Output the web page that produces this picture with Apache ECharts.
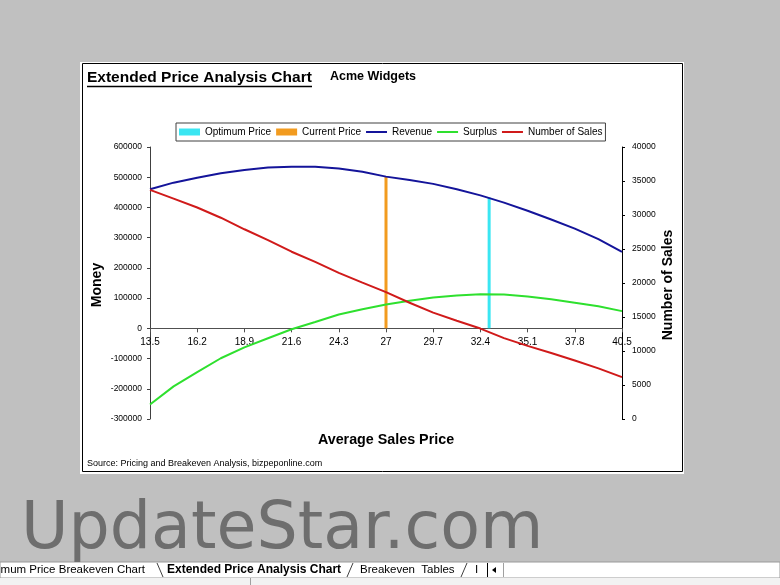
<!DOCTYPE html>
<html>
<head>
<meta charset="utf-8">
<title>Extended Price Analysis Chart</title>
<script src="https://cdn.jsdelivr.net/npm/echarts@6/dist/echarts.min.js"></script>
<style>
  html, body { margin: 0; padding: 0; background: #c0c0c0; }
  #chart { width: 780px; height: 585px; }
</style>
</head>
<body>
<div id="chart"></div>
<script>
// average sales price (x)
const prices = [13.5, 14.85, 16.2, 17.55, 18.9, 20.25, 21.6, 22.95, 24.3, 25.65, 27,
  28.35, 29.7, 31.05, 32.4, 33.75, 35.1, 36.45, 37.8, 39.15, 40.5]
// money axis
const revenue = [460000, 482000, 498000, 513000, 524000, 532000, 535000, 535000, 529000, 518000, 502000,
  491000, 478000, 460000, 440000, 416000, 389000, 360000, 330000, 295000, 253000]
const surplus = [-252000, -192000, -145000, -99000, -63000, -33000, -3000, 21000, 46000, 63000, 79000,
  91000, 102000, 109000, 113000, 112000, 105000, 96000, 85000, 73000, 57000]
// number of sales axis
const sales = [33700, 32400, 31100, 29600, 27900, 26300, 24600, 23100, 21500, 20050, 18650,
  17100, 15650, 14450, 13300, 11900, 10750, 9700, 8600, 7450, 6150]
// marker lines
const optimumPrice = [32.9, 32.9]
const optimumValue = [0, 433000]
const currentPrice = [27, 27]
const currentValue = [0, 501000]

const pairs = (xs, ys) => xs.map((x, i) => [x, ys[i]])
const font = 'Liberation Sans, Arial, sans-serif'
const lineIcon = 'path://M0,0H21V2H0Z'

// grid: money axis -300000..600000, x axis sits on the zero line
const gridTop = 147
const gridHeight = 272
const zeroOffset = -gridHeight * 300000 / 900000

const myChart = echarts.init(document.getElementById('chart'))

myChart.setOption({
  animation: false,
  backgroundColor: '#c0c0c0',
  textStyle: { fontFamily: font, color: '#000' },
  legend: {
    left: 176,
    top: 123,
    padding: [4, 3],
    itemGap: 5,
    itemWidth: 21,
    itemHeight: 7,
    borderColor: '#404040',
    borderWidth: 1,
    backgroundColor: '#fff',
    textStyle: { fontSize: 10, fontFamily: font, color: '#000' },
    data: [
      { name: 'Optimum Price', icon: 'rect' },
      { name: 'Current Price', icon: 'rect' },
      { name: 'Revenue', icon: lineIcon },
      { name: 'Surplus', icon: lineIcon },
      { name: 'Number of Sales', icon: lineIcon }
    ]
  },
  grid: { left: 150, top: gridTop, width: 472, height: gridHeight },
  xAxis: {
    type: 'value',
    min: 13.5,
    max: 40.5,
    interval: 2.7,
    position: 'bottom',
    offset: zeroOffset,
    axisLine: { onZero: false, lineStyle: { color: '#505050', width: 1 } },
    axisTick: { show: true, length: 4, lineStyle: { color: '#505050' } },
    axisLabel: {
      margin: 9,
      fontSize: 10,
      color: '#000',
      formatter: v => String(parseFloat(v.toFixed(1)))
    },
    splitLine: { show: false }
  },
  yAxis: [
    {
      type: 'value',
      min: -300000,
      max: 600000,
      interval: 100000,
      axisLine: { show: true, onZero: false, lineStyle: { color: '#404040' } },
      axisTick: { show: true, length: 3, lineStyle: { color: '#404040' } },
      axisLabel: { margin: 8, fontSize: 8.5, color: '#000', formatter: v => String(v) },
      splitLine: { show: false }
    },
    {
      type: 'value',
      position: 'right',
      min: 0,
      max: 40000,
      interval: 5000,
      axisLine: { show: true, onZero: false, lineStyle: { color: '#000' } },
      axisTick: { show: true, length: 3, lineStyle: { color: '#000' } },
      axisLabel: { margin: 10, fontSize: 8.5, color: '#000', formatter: v => String(v) },
      splitLine: { show: false }
    }
  ],
  series: [
    {
      name: 'Optimum Price',
      type: 'line',
      symbol: 'none',
      color: '#3ae6f2',
      lineStyle: { width: 3 },
      data: pairs(optimumPrice, optimumValue)
    },
    {
      name: 'Current Price',
      type: 'line',
      symbol: 'none',
      color: '#f29b1f',
      lineStyle: { width: 3 },
      data: pairs(currentPrice, currentValue)
    },
    {
      name: 'Revenue',
      type: 'line',
      symbol: 'none',
      color: '#14149a',
      lineStyle: { width: 2 },
      data: pairs(prices, revenue)
    },
    {
      name: 'Surplus',
      type: 'line',
      symbol: 'none',
      color: '#2ee02e',
      lineStyle: { width: 2 },
      data: pairs(prices, surplus)
    },
    {
      name: 'Number of Sales',
      type: 'line',
      yAxisIndex: 1,
      symbol: 'none',
      color: '#d01a1a',
      lineStyle: { width: 2 },
      data: pairs(prices, sales)
    }
  ],
  graphic: [
    // chart sheet
    { type: 'rect', z: -10, shape: { x: 80, y: 62, width: 604, height: 412 }, style: { fill: '#fff' } },
    { type: 'rect', z: -9, shape: { x: 82.5, y: 63.5, width: 600, height: 408 }, style: { fill: null, stroke: '#000', lineWidth: 1 } },
    // titles
    { type: 'text', x: 87, y: 78, style: { text: 'Extended Price Analysis Chart', font: 'bold 15.5px ' + font, fill: '#000', verticalAlign: 'middle' } },
    { type: 'line', shape: { x1: 87, y1: 86.5, x2: 312, y2: 86.5 }, style: { stroke: '#000', lineWidth: 1.5 } },
    { type: 'text', x: 330, y: 77, style: { text: 'Acme Widgets', font: 'bold 12.5px ' + font, fill: '#000', verticalAlign: 'middle' } },
    // axis names
    { type: 'text', x: 97, y: 285, rotation: Math.PI / 2, style: { text: 'Money', font: 'bold 14px ' + font, fill: '#000', align: 'center', verticalAlign: 'middle' } },
    { type: 'text', x: 668, y: 285, rotation: Math.PI / 2, style: { text: 'Number of Sales', font: 'bold 14px ' + font, fill: '#000', align: 'center', verticalAlign: 'middle' } },
    { type: 'text', x: 386, y: 440.5, style: { text: 'Average Sales Price', font: 'bold 14.3px ' + font, fill: '#000', align: 'center', verticalAlign: 'middle' } },
    { type: 'text', x: 87, y: 464, style: { text: 'Source: Pricing and Breakeven Analysis, bizpeponline.com', font: '9px ' + font, fill: '#000', verticalAlign: 'middle' } },
    // watermark
    { type: 'text', z: 50, x: 21, y: 531, style: { text: 'UpdateStar.com', font: '65px DejaVu Sans, sans-serif', fill: '#6e6e6e', verticalAlign: 'middle' } },
    // sheet tabs
    { type: 'rect', z: 40, shape: { x: 0, y: 562, width: 780, height: 16 }, style: { fill: '#fff', stroke: '#9a9a9a', lineWidth: 1 } },
    { type: 'rect', z: 40, shape: { x: 0, y: 578, width: 780, height: 7 }, style: { fill: '#f2f2f2' } },
    { type: 'line', z: 41, shape: { x1: 250.5, y1: 578, x2: 250.5, y2: 585 }, style: { stroke: '#a0a0a0', lineWidth: 1 } },
    { type: 'text', z: 41, x: 145, y: 570, style: { text: 'mum Price Breakeven Chart', font: '11.5px ' + font, fill: '#000', align: 'right', verticalAlign: 'middle' } },
    { type: 'polyline', z: 41, shape: { points: [[157, 563], [163, 577]] }, style: { stroke: '#404040', lineWidth: 1 } },
    { type: 'text', z: 41, x: 167, y: 570, style: { text: 'Extended Price Analysis Chart', font: 'bold 12px ' + font, fill: '#000', verticalAlign: 'middle' } },
    { type: 'polyline', z: 41, shape: { points: [[347, 577], [353, 563]] }, style: { stroke: '#404040', lineWidth: 1 } },
    { type: 'text', z: 41, x: 360, y: 570, style: { text: 'Breakeven  Tables', font: '11.5px ' + font, fill: '#000', verticalAlign: 'middle' } },
    { type: 'polyline', z: 41, shape: { points: [[461, 577], [467, 563]] }, style: { stroke: '#404040', lineWidth: 1 } },
    { type: 'text', z: 41, x: 475, y: 570, style: { text: 'I', font: '11.5px ' + font, fill: '#000', verticalAlign: 'middle' } },
    { type: 'line', z: 41, shape: { x1: 487.5, y1: 563, x2: 487.5, y2: 577 }, style: { stroke: '#000', lineWidth: 1 } },
    { type: 'polygon', z: 41, shape: { points: [[492, 570], [496, 567], [496, 573]] }, style: { fill: '#000' } },
    { type: 'line', z: 41, shape: { x1: 503.5, y1: 563, x2: 503.5, y2: 577 }, style: { stroke: '#a0a0a0', lineWidth: 1 } }
  ]
})
</script>
</body>
</html>
